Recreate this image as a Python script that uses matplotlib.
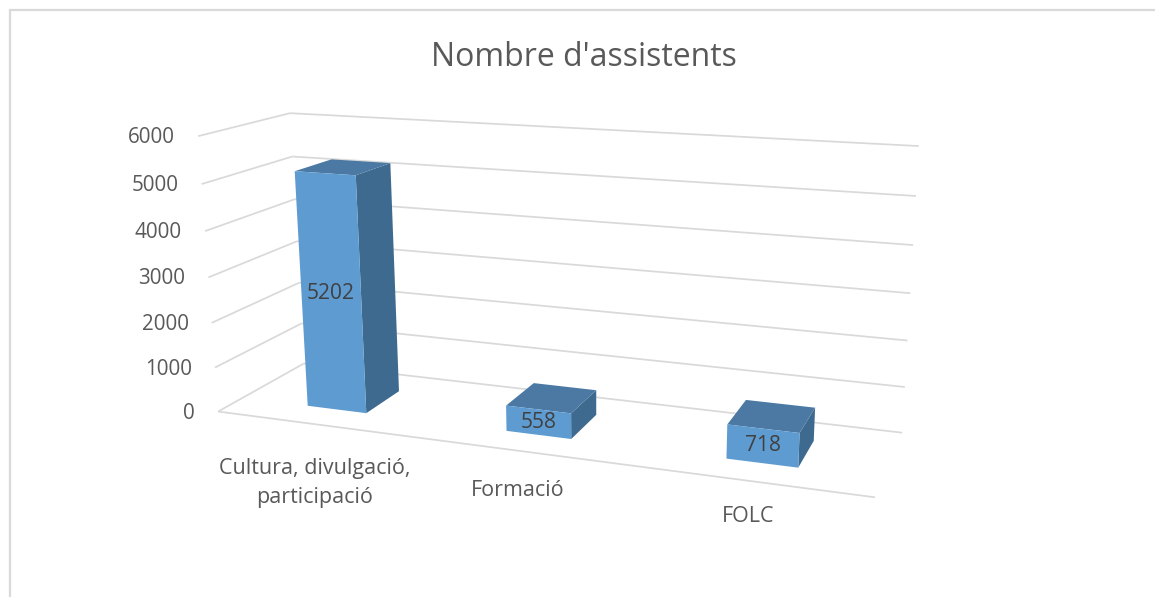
import numpy as np
import matplotlib
matplotlib.use("Agg")
import matplotlib.pyplot as plt

# --- data ---
title = "Nombre d'assistents"
categories = ["Cultura, divulgació,\nparticipació", "Formació", "FOLC"]
values = [5202, 558, 718]
value_ticks = [0, 1000, 2000, 3000, 4000, 5000, 6000]

# --- style / layout ---
W, H = 1155, 597
VMAX = 6000
BAR_W = 0.305
D0, D1 = 0.27, 0.70
cat_label_xy = [(315, 483), (518, 490), (748, 516)]
GRID = "#d9d9d9"
TXT = "#595959"
FRONT, SIDE, TOP = "#5e9bd1", "#3f6a8f", "#4b79a3"
FONT = "Open Sans"

# camera calibration: (category axis, depth, value fraction) -> pixel
calib = [
    ((0, 0, 0), (217, 412)), ((3, 0, 0), (875, 497)),
    ((0, 1, 0), (305, 363)), ((3, 1, 0), (902, 433)),
    ((0, 0, 1), (199, 136)), ((0, 1, 1), (289, 113)),
    ((3, 1, 1), (919, 146)),
    ((0, 0, 5/6), (202, 184)), ((0, 1, 5/6), (292, 157)), ((3, 1, 5/6), (916, 196)),
]
A, b = [], []
for (X, Y, Z), (u, v) in calib:
    A.append([X, Y, Z, 1, 0, 0, 0, 0, -u*X, -u*Y, -u*Z]); b.append(u)
    A.append([0, 0, 0, 0, X, Y, Z, 1, -v*X, -v*Y, -v*Z]); b.append(v)
P = np.linalg.lstsq(np.array(A, float), np.array(b, float), rcond=None)[0]
P = np.append(P, 1.0).reshape(3, 4)

def proj(x, d, val):
    p = P @ np.array([x, d, val / VMAX, 1.0])
    return p[0] / p[2], p[1] / p[2]

fig = plt.figure(figsize=(W / 100, H / 100), dpi=100)
ax = fig.add_axes([0, 0, 1, 1])
ax.set_xlim(0, W); ax.set_ylim(H, 0); ax.axis("off")

def line(a, b, **kw):
    ax.plot([a[0], b[0]], [a[1], b[1]], color=GRID, lw=1.25, solid_capstyle="butt", **kw)

# chart border
ax.plot([9.5, 9.5, W], [H, 10, 10], color=GRID, lw=1.6, solid_joinstyle="miter")

# grid on side and back walls
for t in value_ticks:
    line(proj(0, 0, t), proj(0, 1, t), zorder=1)
    line(proj(0, 1, t), proj(3, 1, t), zorder=1)
    x, y = proj(0, 0, t)
    ax.text(x - 23, y + 1.5, str(t), ha="right", va="center", fontsize=14.9, color=TXT, family=FONT)
line(proj(0, 0, 0), proj(3, 0, 0), zorder=1)

# bars
for i, val in enumerate(values):
    x0, x1 = i + 0.5 - BAR_W / 2, i + 0.5 + BAR_W / 2
    ftl, ftr = proj(x0, D0, val), proj(x1, D0, val)
    fbl, fbr = proj(x0, D0, 0), proj(x1, D0, 0)
    btl, btr = proj(x0, D1, val), proj(x1, D1, val)
    bbr = proj(x1, D1, 0)
    for pts, c in (([ftr, btr, bbr, fbr], SIDE), ([ftl, ftr, btr, btl], TOP), ([ftl, ftr, fbr, fbl], FRONT)):
        ax.fill(*zip(*pts), color=c, lw=0, zorder=3)
    cx, cy = proj(i + 0.5, D0, val / 2)
    ax.text(cx, cy, str(val), ha="center", va="center", fontsize=15.1, color="#404040", family=FONT, zorder=4)

for lab, (x, y) in zip(categories, cat_label_xy):
    ax.text(x, y, lab, ha="center", va="center", fontsize=15.5, color=TXT, family=FONT, linespacing=1.55)

ax.text(584, 57, title, ha="center", va="center", fontsize=23.05, color=TXT, family=FONT)

fig.savefig("out.png", dpi=100)
